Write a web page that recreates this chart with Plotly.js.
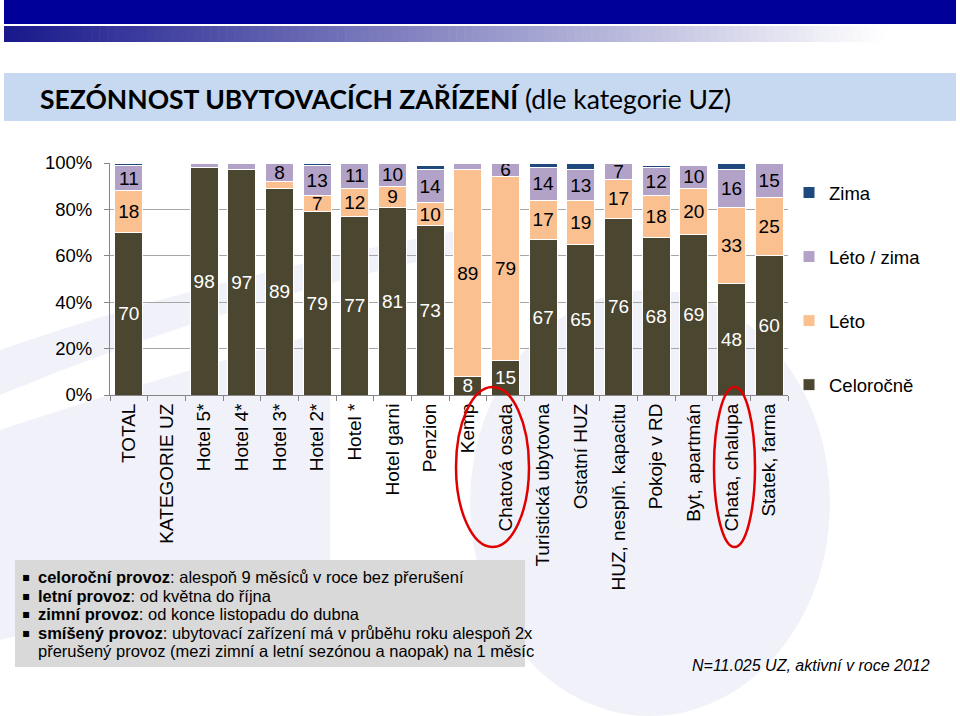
<!DOCTYPE html>
<html>
<head>
<meta charset="utf-8">
<script src="https://cdn.plot.ly/plotly-3.0.1.min.js"></script>
<style>
  html, body { margin: 0; padding: 0; background: #ffffff; }
  #chart { width: 960px; height: 716px; }
</style>
</head>
<body>
<div id="chart"></div>
<script>
// ---- data ----
const categories = ["TOTAL", "KATEGORIE UZ", "Hotel 5*", "Hotel 4*", "Hotel 3*", "Hotel 2*", "Hotel *",
  "Hotel garni", "Penzion", "Kemp", "Chatová osada", "Turistická ubytovna", "Ostatní HUZ",
  "HUZ, nesplň. kapacitu", "Pokoje v RD", "Byt, apartmán", "Chata, chalupa", "Statek, farma"];
const celorocne = [70, null, 98, 97, 89, 79, 77, 81, 73, 8, 15, 67, 65, 76, 68, 69, 48, 60];
const leto      = [18, null, 0, 0, 3, 7, 12, 9, 10, 89, 79, 17, 19, 17, 18, 20, 33, 25];
const letoZima  = [11, null, 2, 3, 8, 13, 11, 10, 14, 3, 6, 14, 13, 7, 12, 10, 16, 15];
const zima      = [1, null, 0, 0, 0, 1, 0, 0, 2, 0, 0, 2, 3, 0, 1, 0, 3, 0];
const seriesNames = ["Celoročně", "Léto", "Léto / zima", "Zima"];
const yTickVals = [0, 20, 40, 60, 80, 100];
const yTickText = ["0%", "20%", "40%", "60%", "80%", "100%"];
const noteLines = [
  "<b>celoroční provoz</b>: alespoň 9 měsíců v roce bez přerušení",
  "<b>letní provoz</b>: od května do října",
  "<b>zimní provoz</b>: od konce listopadu do dubna",
  "<b>smíšený provoz</b>: ubytovací zařízení má v průběhu roku alespoň 2x",
  "přerušený provoz (mezi zimní a letní sezónou a naopak) na 1 měsíc"
];
const noteBullets = [true, true, true, true, false];
const footnote = "N=11.025 UZ, aktivní v roce 2012";

// ---- layout helpers (pixel -> paper) ----
const L = 110, R = 788, T = 163, B = 395;
const px = x => (x - L) / (R - L);
const py = y => (B - y) / (B - T);

const colors = ["#4B4630", "#FAC090", "#B3A2C7", "#1F497D"];
const textColors = ["#ffffff", "#000000", "#000000", "#000000"];
const ranks = [4, 3, 2, 1];
const seriesData = [celorocne, leto, letoZima, zima];

const traces = seriesData.map((vals, i) => ({
  type: "bar",
  name: seriesNames[i],
  legendgroup: "g" + i,
  legendrank: ranks[i],
  x: categories,
  y: vals,
  text: vals.map(v => (v !== null && v >= 5) ? String(v) : ""),
  textposition: "inside",
  insidetextanchor: "middle",
  textangle: 0,
  constraintext: "none",
  textfont: { family: "Liberation Sans, Arial, sans-serif", size: 19, color: textColors[i] },
  marker: { color: colors[i], line: { color: "#ffffff", width: 1 } },
  hoverinfo: "x+y+name"
}));

const shapes = [];
// watermark shapes (faint)
const wm = "#F1F2F9";
shapes.push({ type: "path", xref: "paper", yref: "paper", layer: "below",
  path: `M ${px(0)},${py(350)} Q ${px(200)},${py(280)} ${px(470)},${py(228)} L ${px(470)},${py(250)} Q ${px(230)},${py(300)} ${px(0)},${py(395)} Z`,
  fillcolor: wm, line: { width: 0 } });
shapes.push({ type: "path", xref: "paper", yref: "paper", layer: "below",
  path: `M ${px(0)},${py(430)} Q ${px(150)},${py(380)} ${px(330)},${py(330)} L ${px(330)},${py(560)} L ${px(0)},${py(640)} Z`,
  fillcolor: wm, line: { width: 0 } });
shapes.push({ type: "circle", xref: "paper", yref: "paper", layer: "below",
  x0: px(470), x1: px(830), y0: py(290), y1: py(716),
  fillcolor: wm, line: { width: 0 } });

// top banner
shapes.push({ type: "rect", xref: "paper", yref: "paper", layer: "above",
  x0: px(4), x1: px(956), y0: py(0), y1: py(24), fillcolor: "#000099", line: { width: 0 } });
const nSlices = 120;
for (let k = 0; k < nSlices; k++) {
  const x0 = 4 + (952 * k) / nSlices, x1 = 4 + (952 * (k + 1)) / nSlices;
  const t = Math.min(1, k / (nSlices * 0.92));
  const r = Math.round(25 + (255 - 25) * t), g = Math.round(25 + (255 - 25) * t), b = Math.round(140 + (255 - 140) * t);
  shapes.push({ type: "rect", xref: "paper", yref: "paper", layer: "above",
    x0: px(x0), x1: px(x1 + 0.6), y0: py(26), y1: py(42),
    fillcolor: `rgb(${r},${g},${b})`, line: { width: 0 } });
}
// title box
shapes.push({ type: "rect", xref: "paper", yref: "paper", layer: "above",
  x0: px(4), x1: px(956), y0: py(73), y1: py(121), fillcolor: "#C6D9F1", line: { width: 0 } });
// note box
shapes.push({ type: "rect", xref: "paper", yref: "paper", layer: "above",
  x0: px(15), x1: px(525), y0: py(560), y1: py(667), fillcolor: "#D9D9D9", line: { width: 0 } });
// red ellipses
shapes.push({ type: "circle", xref: "paper", yref: "paper", layer: "above",
  x0: px(456), x1: px(529), y0: py(387), y1: py(547), line: { color: "#E00000", width: 2.5 } });
shapes.push({ type: "circle", xref: "paper", yref: "paper", layer: "above",
  x0: px(714), x1: px(755), y0: py(387), y1: py(547), line: { color: "#E00000", width: 2.5 } });

const annotations = [];
annotations.push({ xref: "paper", yref: "paper", x: px(38), y: py(99), xanchor: "left", yanchor: "middle",
  showarrow: false,
  text: "<b>SEZÓNNOST UBYTOVACÍCH ZAŘÍZENÍ</b> (dle kategorie UZ)",
  font: { family: "Lato, sans-serif", size: 26.5, color: "#000000" } });
const lineY = [577, 596, 614, 633, 651];
noteLines.forEach((ln, i) => {
  if (noteBullets[i]) {
    annotations.push({ xref: "paper", yref: "paper", x: px(20), y: py(lineY[i]), xanchor: "left", yanchor: "middle",
      showarrow: false, text: "▪", font: { family: "DejaVu Sans, sans-serif", size: 12, color: "#000000" } });
  }
  annotations.push({ xref: "paper", yref: "paper", x: px(36), y: py(lineY[i]), xanchor: "left", yanchor: "middle",
    showarrow: false, text: ln, font: { family: "Liberation Sans, Arial, sans-serif", size: 16.5, color: "#000000" } });
});
annotations.push({ xref: "paper", yref: "paper", x: px(811), y: py(665), xanchor: "center", yanchor: "middle",
  showarrow: false, text: "<i>" + footnote + "</i>",
  font: { family: "Liberation Sans, Arial, sans-serif", size: 16, color: "#000000" } });

const layout = {
  width: 960, height: 716,
  margin: { l: L, r: 960 - R, t: T, b: 716 - B, pad: 0 },
  paper_bgcolor: "#ffffff",
  plot_bgcolor: "rgba(0,0,0,0)",
  barmode: "stack",
  bargap: 0.26,
  uniformtext: { mode: "show", minsize: 19 },
  font: { family: "Liberation Sans, Arial, sans-serif", color: "#000000" },
  showlegend: true,
  legend: {
    x: px(789), y: py(174), xanchor: "left", yanchor: "top",
    traceorder: "grouped", tracegroupgap: 37,
    font: { size: 18.5, color: "#000000" }, bgcolor: "rgba(0,0,0,0)", itemwidth: 30
  },
  xaxis: {
    type: "category", categoryorder: "array", categoryarray: categories,
    tickangle: -90, tickson: "boundaries", ticks: "outside", ticklen: 5, tickcolor: "#868686",
    showline: true, linecolor: "#868686", linewidth: 1,
    tickfont: { size: 19, color: "#000000" }, showgrid: false, automargin: false
  },
  yaxis: {
    range: [0, 100], tickvals: yTickVals, ticktext: yTickText,
    ticks: "outside", ticklen: 5, tickcolor: "#868686",
    showline: true, linecolor: "#868686", linewidth: 1,
    showgrid: true, gridcolor: "#A6A6A6", gridwidth: 1, zeroline: false,
    tickfont: { size: 18.5, color: "#000000" }, ticklabelstandoff: 8, automargin: false
  },
  shapes: shapes,
  annotations: annotations
};

Plotly.newPlot("chart", traces, layout, { displayModeBar: false, staticPlot: true });
</script>
</body>
</html>
